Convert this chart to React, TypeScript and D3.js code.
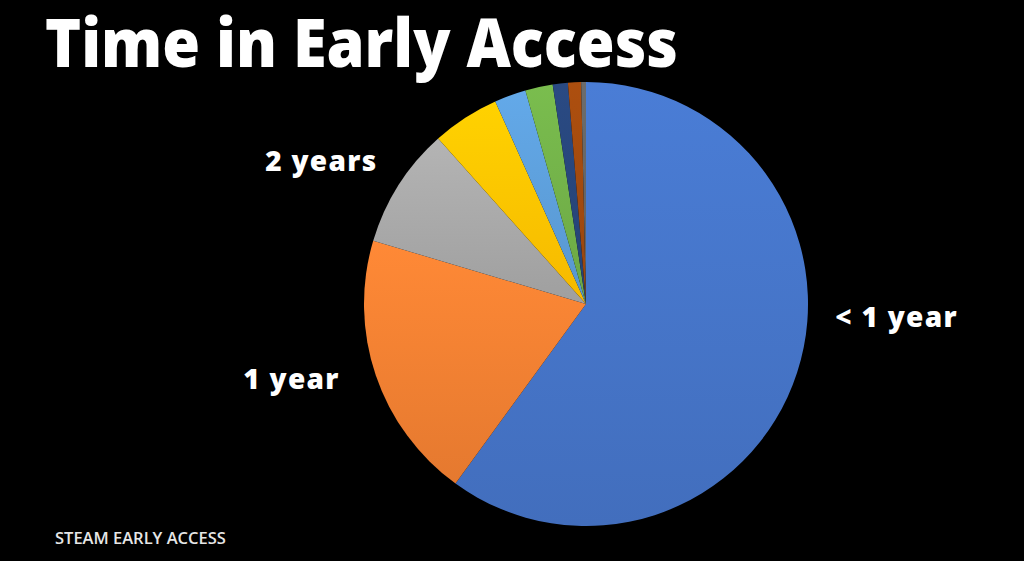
import { useMemo } from "react";
import * as d3 from "d3";

// slices, clockwise from 12 o'clock
const categories = ["< 1 year", "1 year", "2 years", "3 years", "4 years", "5 years", "6 years", "7 years", "8 years"];
const shares = [60.0, 19.6, 8.8, 4.9, 2.3, 2.0, 1.1, 0.95, 0.35];
const sliceColors = ["#4472C4", "#ED7D31", "#A5A5A5", "#FFC000", "#5B9BD5", "#70AD47", "#264478", "#9E480E", "#636363"];
const labelledSlices = ["< 1 year", "1 year", "2 years"];

const TITLE = "Time in Early Access";
const FOOTER = "STEAM EARLY ACCESS";

const width = 1024;
const height = 561;
const cx = 586;
const cy = 304;
const radius = 222;

// label placement: distance from centre along the slice's mid angle, vertical nudge, anchor
const labelStyle: Record<string, { r: number; dy: number; anchor: string }> = {
  "< 1 year": { r: 262, dy: -58, anchor: "start" },
  "1 year": { r: 260, dy: 2, anchor: "end" },
  "2 years": { r: 247, dy: -1, anchor: "end" },
};

const FONT = "'Open Sans', Lato, sans-serif";

export default function App() {
  const arcs = useMemo(
    () =>
      d3
        .pie<number>()
        .sort(null)
        .value((d) => d)(shares),
    []
  );

  const arcGen = d3.arc<d3.PieArcDatum<number>>().innerRadius(0).outerRadius(radius);

  return (
    <svg
      width={width}
      height={height}
      viewBox={`0 0 ${width} ${height}`}
      style={{ position: "absolute", left: 0, top: 0, background: "#000" }}
    >
      <defs>
        {sliceColors.map((c, i) => (
          <linearGradient key={i} id={`g${i}`} x1="0" y1="0" x2="0" y2="1">
            <stop offset="0%" stopColor={d3.color(c)!.brighter(0.25).formatHex()} />
            <stop offset="100%" stopColor={d3.color(c)!.darker(0.1).formatHex()} />
          </linearGradient>
        ))}
      </defs>
      <rect width={width} height={height} fill="#000" />
      <text
        x={45}
        y={67}
        fill="#fff"
        fontFamily={FONT}
        fontWeight={800}
        fontSize={68}
        textLength={633}
        lengthAdjust="spacingAndGlyphs"
      >
        {TITLE}
      </text>
      <g transform={`translate(${cx},${cy})`}>
        {arcs.map((a, i) => (
          <path key={categories[i]} d={arcGen(a) ?? ""} fill={`url(#g${i})`} />
        ))}
        {arcs.map((a, i) => {
          const name = categories[i];
          if (!labelledSlices.includes(name)) return null;
          const s = labelStyle[name];
          const mid = (a.startAngle + a.endAngle) / 2;
          return (
            <text
              key={name}
              x={Math.sin(mid) * s.r}
              y={-Math.cos(mid) * s.r + s.dy}
              textAnchor={s.anchor}
              fill="#fff"
              fontFamily={FONT}
              fontWeight={800}
              fontSize={28}
              letterSpacing={1.3}
            >
              {name}
            </text>
          );
        })}
      </g>
      <text
        x={55}
        y={544}
        fill="#e6e6e6"
        fontFamily={FONT}
        fontWeight={600}
        fontSize={16.5}
      >
        {FOOTER}
      </text>
    </svg>
  );
}
